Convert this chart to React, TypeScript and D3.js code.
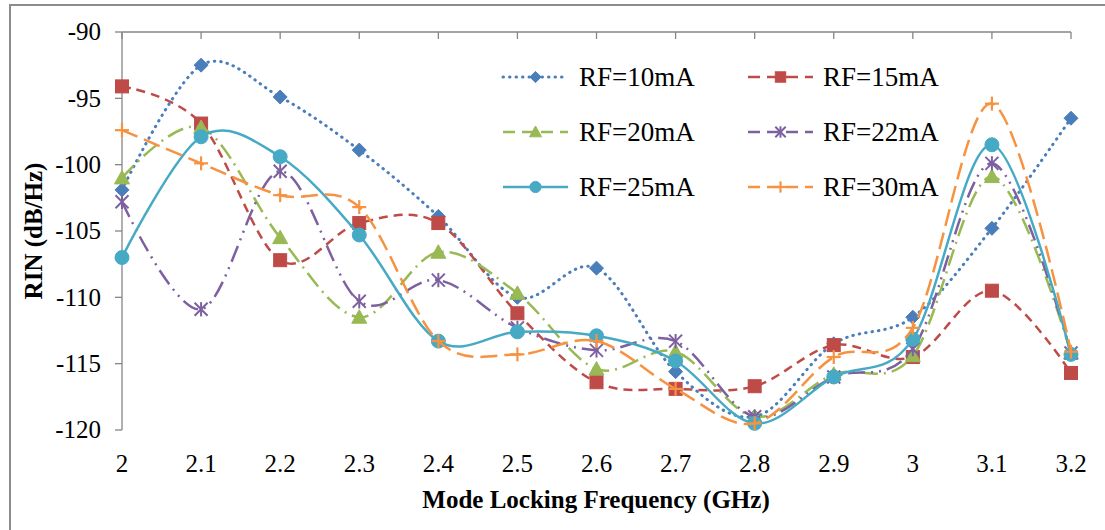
import React from "react";
import * as d3 from "d3";

// Mode-locking frequency (GHz) categories
const freqs = [2.0, 2.1, 2.2, 2.3, 2.4, 2.5, 2.6, 2.7, 2.8, 2.9, 3.0, 3.1, 3.2];
const xTickLabels = ["2", "2.1", "2.2", "2.3", "2.4", "2.5", "2.6", "2.7", "2.8", "2.9", "3", "3.1", "3.2"];
const yTicks = [-90, -95, -100, -105, -110, -115, -120];

// RIN (dB/Hz) per RF drive current
const rf10 = [-101.9, -92.5, -94.9, -98.9, -103.9, -110.0, -107.8, -115.6, -119.0, -113.5, -111.5, -104.8, -96.5];
const rf15 = [-94.1, -96.9, -107.2, -104.4, -104.4, -111.2, -116.4, -116.9, -116.7, -113.6, -114.5, -109.5, -115.7];
const rf20 = [-101.0, -97.2, -105.5, -111.5, -106.6, -109.7, -115.4, -114.1, -119.0, -115.8, -114.4, -100.9, -114.2];
const rf22 = [-102.8, -110.9, -100.5, -110.3, -108.7, -112.3, -114.0, -113.3, -119.0, -116.0, -113.9, -99.9, -114.2];
const rf25 = [-107.0, -97.9, -99.4, -105.3, -113.3, -112.6, -112.9, -114.8, -119.5, -116.0, -113.15, -98.5, -114.3];
const rf30 = [-97.4, -99.9, -102.3, -103.2, -113.3, -114.3, -113.3, -116.9, -119.5, -114.5, -112.3, -95.4, -114.1];

const seriesNames = ["RF=10mA", "RF=15mA", "RF=20mA", "RF=22mA", "RF=25mA", "RF=30mA"];

type Marker = "diamond" | "square" | "triangle" | "star" | "circle" | "plus";

const series: { name: string; values: number[]; color: string; dash: string; cap: "round" | "butt"; marker: Marker }[] = [
  { name: seriesNames[0], values: rf10, color: "#4A7EBB", dash: "0.5 6", cap: "round", marker: "diamond" },
  { name: seriesNames[1], values: rf15, color: "#BE4B48", dash: "9 6", cap: "butt", marker: "square" },
  { name: seriesNames[2], values: rf20, color: "#98B954", dash: "17 6 2 6", cap: "butt", marker: "triangle" },
  { name: seriesNames[3], values: rf22, color: "#7D60A0", dash: "17 6 2 6 2 6", cap: "butt", marker: "star" },
  { name: seriesNames[4], values: rf25, color: "#46AAC5", dash: "none", cap: "butt", marker: "circle" },
  { name: seriesNames[5], values: rf30, color: "#F69240", dash: "17 7", cap: "butt", marker: "plus" },
];

const W = 1105;
const H = 530;
const axisColor = "#868686";
const serif = "Liberation Serif";
const fontStyle = { fontFamily: serif };

const x = d3.scaleLinear().domain([2.0, 3.2]).range([122, 1071]);
const y = d3.scaleLinear().domain([-120, -90]).range([430, 32]);

function MarkerShape({ kind, cx, cy, color, s = 1 }: { kind: Marker; cx: number; cy: number; color: string; s?: number }) {
  switch (kind) {
    case "diamond": {
      const r = 7 * s;
      return <path d={`M${cx},${cy - r}L${cx + r},${cy}L${cx},${cy + r}L${cx - r},${cy}Z`} fill={color} stroke={color} strokeWidth={1} />;
    }
    case "square": {
      const r = 6.5 * s;
      return <rect x={cx - r} y={cy - r} width={2 * r} height={2 * r} fill={color} stroke={color} strokeWidth={1} />;
    }
    case "triangle": {
      const r = 7.5 * s;
      return <path d={`M${cx},${cy - r}L${cx + r},${cy + r * 0.8}L${cx - r},${cy + r * 0.8}Z`} fill={color} stroke={color} strokeWidth={1} />;
    }
    case "circle":
      return <circle cx={cx} cy={cy} r={7 * s} fill={color} stroke={color} strokeWidth={1} />;
    case "star": {
      const r = 6.5 * s;
      return (
        <g stroke={color} strokeWidth={2}>
          <line x1={cx - r} y1={cy - r} x2={cx + r} y2={cy + r} />
          <line x1={cx - r} y1={cy + r} x2={cx + r} y2={cy - r} />
          <line x1={cx} y1={cy - r * 1.1} x2={cx} y2={cy + r * 1.1} />
        </g>
      );
    }
    case "plus": {
      const r = 7 * s;
      return (
        <g stroke={color} strokeWidth={2.2}>
          <line x1={cx - r} y1={cy} x2={cx + r} y2={cy} />
          <line x1={cx} y1={cy - r} x2={cx} y2={cy + r} />
        </g>
      );
    }
  }
  return null;
}

const lineGen = d3
  .line<number>()
  .x((_, i) => x(freqs[i]))
  .y((v) => y(v))
  .curve(d3.curveCardinal.tension(0));

// legend layout: two columns, three rows
const legendCols = [
  { x1: 503, x2: 568, tx: 579 },
  { x1: 748, x2: 813, tx: 823 },
];
const legendRows = [77, 132, 187];

export default function App() {
  return (
    <svg width={W} height={H} style={{ position: "absolute", left: 0, top: 0, background: "#fff" }}>
      <rect x={0} y={0} width={W} height={H} fill="#fff" />
      <rect x={10} y={5} width={W + 20} height={H + 20} fill="none" stroke="#8c8c8c" strokeWidth={2} />

      {/* value axis */}
      <line x1={122} y1={y(-90)} x2={122} y2={y(-120)} stroke={axisColor} strokeWidth={1.3} />
      {yTicks.map((t) => (
        <g key={t}>
          <line x1={115} x2={122} y1={y(t)} y2={y(t)} stroke={axisColor} strokeWidth={1.3} />
          <text x={101} y={y(t)} dy="0.33em" textAnchor="end" fontSize={25} fill="#000" style={fontStyle}>
            {t}
          </text>
        </g>
      ))}

      {/* category axis crosses at the top */}
      <line x1={122} y1={y(-90)} x2={x(3.2)} y2={y(-90)} stroke={axisColor} strokeWidth={1.3} />
      {freqs.map((f, i) => (
        <g key={f}>
          <line x1={x(f)} x2={x(f)} y1={y(-90)} y2={y(-90) + 7} stroke={axisColor} strokeWidth={1.3} />
          <text x={x(f)} y={472} textAnchor="middle" fontSize={25} fill="#000" style={fontStyle}>
            {xTickLabels[i]}
          </text>
        </g>
      ))}

      {/* axis titles */}
      <text x={596} y={508} textAnchor="middle" fontSize={25} fontWeight="bold" fill="#000" style={fontStyle}>
        Mode Locking Frequency (GHz)
      </text>
      <text
        transform={`translate(42, ${(y(-90) + y(-120)) / 2}) rotate(-90)`}
        textAnchor="middle"
        fontSize={25}
        fontWeight="bold"
        fill="#000"
        style={fontStyle}
      >
        RIN (dB/Hz)
      </text>

      {/* series */}
      {series.map((s) => (
        <g key={s.name}>
          <path
            d={lineGen(s.values) || ""}
            fill="none"
            stroke={s.color}
            strokeWidth={s.cap === "round" ? 3 : 2.5}
            strokeDasharray={s.dash}
            strokeLinecap={s.cap}
          />
          {s.values.map((v, i) => (
            <MarkerShape key={i} kind={s.marker} cx={x(freqs[i])} cy={y(v)} color={s.color} />
          ))}
        </g>
      ))}

      {/* legend */}
      {series.map((s, i) => {
        const col = legendCols[i % 2];
        const ry = legendRows[Math.floor(i / 2)];
        const mid = (col.x1 + col.x2) / 2;
        return (
          <g key={"lg" + s.name}>
            <rect x={col.x1 - 4} y={ry - 14} width={col.x2 - col.x1 + 4} height={28} fill="#fff" />
            <line
              x1={col.x1}
              x2={col.x2}
              y1={ry}
              y2={ry}
              stroke={s.color}
              strokeWidth={s.cap === "round" ? 3 : 2.5}
              strokeDasharray={s.cap === "round" ? "0.5 6" : s.dash === "none" ? "none" : "12 7"}
              strokeLinecap={s.cap}
            />
            <MarkerShape kind={s.marker} cx={mid} cy={ry} color={s.color} s={0.8} />
            <text x={col.tx} y={ry} dy="0.34em" fontSize={27} fill="#000" style={fontStyle}>
              {s.name}
            </text>
          </g>
        );
      })}
    </svg>
  );
}
